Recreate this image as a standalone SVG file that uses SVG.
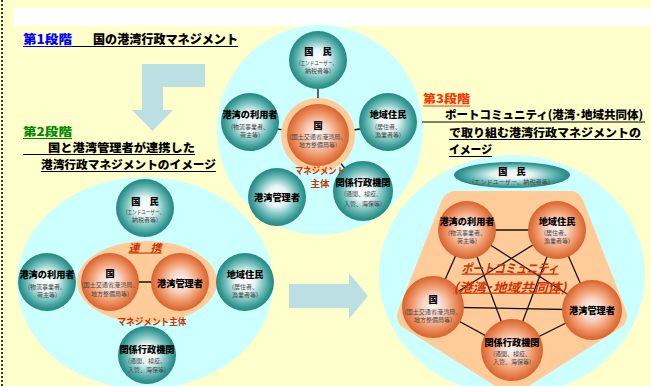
<svg xmlns="http://www.w3.org/2000/svg" width="651" height="386" viewBox="0 0 651 386">
<defs>
<radialGradient id="teal" cx="50%" cy="50%" r="50%" fx="50%" fy="48%">
<stop offset="0" stop-color="#FFFFFF"/>
<stop offset="0.35" stop-color="#E6F5F4"/>
<stop offset="0.65" stop-color="#7AC2BE"/>
<stop offset="0.88" stop-color="#369A94"/>
<stop offset="1" stop-color="#2A8480"/>
</radialGradient>
<radialGradient id="orange" cx="50%" cy="50%" r="50%" fx="50%" fy="48%">
<stop offset="0" stop-color="#FFF6F2"/>
<stop offset="0.35" stop-color="#F9D4C4"/>
<stop offset="0.7" stop-color="#EE9465"/>
<stop offset="1" stop-color="#D8622C"/>
</radialGradient>
<style>
text{font-family:"Noto Sans CJK JP","Noto Sans CJK SC",sans-serif}
.h{font-size:12.5px;font-weight:900}
.h2{font-size:11.5px;font-weight:900}
.t{font-size:9.2px;font-weight:900;fill:#000;text-anchor:middle}
.s{font-size:6px;fill:#444;text-anchor:middle}
.r{font-weight:bold;fill:#CC3300;text-anchor:middle}
.ts{fill:url(#teal)}
.os{fill:url(#orange)}
.cn{stroke:#111;stroke-width:1.3;fill:none}
</style>
</defs>
<rect width="651" height="386" fill="#FFFFCC"/>
<line x1="2" y1="0" x2="2" y2="386" stroke="#333" stroke-width="2" stroke-dasharray="2 2"/>
<rect x="14" y="8" width="637" height="18" fill="#FFFFFF"/>

<!-- background regions -->
<ellipse cx="512" cy="275" rx="133" ry="120" fill="#CCFFFF"/>
<ellipse cx="145" cy="283" rx="128" ry="106" fill="#CCFFFF"/>
<ellipse cx="320" cy="130" rx="103" ry="105" fill="#CCFFFF"/>
<polygon points="455,205 570,205 613,316 512,380 411,316" fill="#FFCC99" stroke="#FFCC99" stroke-width="28" stroke-linejoin="round"/>
<ellipse cx="147" cy="282" rx="70" ry="41" fill="#FFCC99"/>

<!-- arrows -->
<path d="M205,64 L142,64 L142,110 L132,110 L152.5,131 L173,110 L163,110 L163,87 L205,87 Z" fill="#BBDFE3"/>
<path d="M289,284 L349,284 L349,273 L368,296 L349,319 L349,308 L289,308 Z" fill="#BBDFE3"/>

<!-- headings -->
<g id="stage1">
<text class="h" x="23" y="44" fill="#0000FF" textLength="49" lengthAdjust="spacingAndGlyphs">第1段階</text>
<text class="h" x="93" y="44" fill="#000" textLength="145" lengthAdjust="spacingAndGlyphs">国の港湾行政マネジメント</text>
<line x1="23" y1="46.5" x2="72" y2="46.5" stroke="#0000FF" stroke-width="1"/>
<line x1="72" y1="46.5" x2="238" y2="46.5" stroke="#000" stroke-width="1"/>
</g>
<g id="stage2">
<text class="h2" x="23" y="135.5" fill="#008800" textLength="49" lengthAdjust="spacingAndGlyphs">第2段階</text>
<line x1="23" y1="138.5" x2="72" y2="138.5" stroke="#008800" stroke-width="1"/>
<text class="h2" x="48" y="152" fill="#000" textLength="147" lengthAdjust="spacingAndGlyphs">国と港湾管理者が連携した</text>
<line x1="23" y1="154.5" x2="195" y2="154.5" stroke="#000" stroke-width="1"/>
<text class="h2" x="41" y="168.5" fill="#000" textLength="175" lengthAdjust="spacingAndGlyphs">港湾行政マネジメントのイメージ</text>
<line x1="41" y1="171.5" x2="216" y2="171.5" stroke="#000" stroke-width="1"/>
</g>
<g id="stage3">
<text class="h2" x="423" y="103" fill="#FF3300" textLength="47" lengthAdjust="spacingAndGlyphs">第3段階</text>
<line x1="423" y1="106" x2="470" y2="106" stroke="#FF3300" stroke-width="1"/>
<text class="h2" x="445" y="119" fill="#000" textLength="198" lengthAdjust="spacingAndGlyphs">ポートコミュニティ(港湾･地域共同体)</text>
<line x1="422" y1="122" x2="645" y2="122" stroke="#000" stroke-width="1"/>
<text class="h2" x="449" y="137" fill="#000" textLength="192" lengthAdjust="spacingAndGlyphs">で取り組む港湾行政マネジメントの</text>
<line x1="449" y1="139.5" x2="641" y2="139.5" stroke="#000" stroke-width="1"/>
<text class="h2" x="449" y="154" fill="#000" textLength="43" lengthAdjust="spacingAndGlyphs">イメージ</text>
<line x1="449" y1="156.5" x2="492" y2="156.5" stroke="#000" stroke-width="1"/>
</g>

<!-- connectors -->
<g id="connectors">
<line class="cn" x1="318" y1="135" x2="318" y2="60"/>
<line class="cn" x1="318" y1="135" x2="250" y2="125"/>
<line class="cn" x1="318" y1="135" x2="388" y2="125"/>
<line class="cn" x1="318" y1="135" x2="363" y2="191"/>
<line class="cn" x1="110" y1="282" x2="180" y2="282"/>
<line class="cn" x1="467" y1="230" x2="557" y2="230"/>
<line class="cn" x1="467" y1="230" x2="433" y2="307"/>
<line class="cn" x1="467" y1="230" x2="592" y2="310"/>
<line class="cn" x1="467" y1="230" x2="512" y2="350"/>
<line class="cn" x1="557" y1="230" x2="433" y2="307"/>
<line class="cn" x1="557" y1="230" x2="592" y2="310"/>
<line class="cn" x1="557" y1="230" x2="512" y2="350"/>
<line class="cn" x1="433" y1="307" x2="592" y2="310"/>
<line class="cn" x1="433" y1="307" x2="512" y2="350"/>
<line class="cn" x1="592" y1="310" x2="512" y2="350"/>
</g>

<!-- stage 1 nodes -->
<g id="s1-kokumin">
<circle class="ts" cx="318" cy="60" r="29"/>
<text class="t" x="318" y="55">国　民</text>
<text class="s" x="318" y="64.5" textLength="38" lengthAdjust="spacingAndGlyphs">(エンドユーザー、</text>
<text class="s" x="318" y="72.5">納税者等)</text>
</g>
<g id="s1-riyousha">
<circle class="ts" cx="250" cy="122" r="29"/>
<text class="t" x="250" y="117.5">港湾の利用者</text>
<text class="s" x="250" y="128.5">(物流事業者、</text>
<text class="s" x="250" y="136.5">荷主等)</text>
</g>
<g id="s1-juumin">
<circle class="ts" cx="388" cy="122" r="29"/>
<text class="t" x="388" y="117.5">地域住民</text>
<text class="s" x="388" y="128.5">(居住者、</text>
<text class="s" x="388" y="136.5">漁業者等)</text>
</g>
<g id="s1-kuni">
<circle cx="318" cy="135" r="37" fill="#FFCC99"/>
<circle class="os" cx="318" cy="135" r="31"/>
<text class="t" x="318" y="129">国</text>
<text class="s" x="318" y="139" textLength="57" lengthAdjust="spacingAndGlyphs">(国土交通省港湾局、</text>
<text class="s" x="318" y="147">地方整備局等)</text>
</g>
<g id="s1-kanrisha">
<circle class="ts" cx="277" cy="197" r="29"/>
<text class="t" x="277" y="200.5">港湾管理者</text>
</g>
<g id="s1-gyousei">
<circle class="ts" cx="363" cy="191" r="30"/>
<text class="t" x="363" y="186">関係行政機関</text>
<text class="s" x="363" y="196">(通関、検疫、</text>
<text class="s" x="363" y="205.5">入管、海保等)</text>
</g>
<g id="s1-label">
<text class="r" x="320" y="173.5" font-size="9.5" textLength="50" lengthAdjust="spacingAndGlyphs">マネジメント</text>
<text class="r" x="320" y="186.5" font-size="9.5">主体</text>
</g>

<!-- stage 2 nodes -->
<g id="s2-kokumin">
<circle class="ts" cx="145" cy="208" r="29"/>
<text class="t" x="145" y="204.5">国　民</text>
<text class="s" x="145" y="214" textLength="38" lengthAdjust="spacingAndGlyphs">(エンドユーザー、</text>
<text class="s" x="145" y="222">納税者等)</text>
</g>
<g id="s2-riyousha">
<circle class="ts" cx="47" cy="282" r="29"/>
<text class="t" x="47" y="278">港湾の利用者</text>
<text class="s" x="47" y="288.5">(物流事業者、</text>
<text class="s" x="47" y="297">荷主等)</text>
</g>
<g id="s2-kuni">
<circle class="os" cx="110" cy="282" r="29"/>
<text class="t" x="110" y="277">国</text>
<text class="s" x="110" y="287" textLength="57" lengthAdjust="spacingAndGlyphs">(国土交通省港湾局、</text>
<text class="s" x="110" y="295.5">地方整備局等)</text>
</g>
<g id="s2-kanrisha">
<circle class="os" cx="180" cy="282" r="29"/>
<text class="t" x="180" y="286.5">港湾管理者</text>
</g>
<g id="s2-juumin">
<circle class="ts" cx="245" cy="282" r="29"/>
<text class="t" x="245" y="278">地域住民</text>
<text class="s" x="245" y="288.5">(居住者、</text>
<text class="s" x="245" y="297">漁業者等)</text>
</g>
<g id="s2-gyousei">
<circle class="ts" cx="147" cy="355" r="29"/>
<text class="t" x="147" y="353">関係行政機関</text>
<text class="s" x="147" y="363">(通関、検疫、</text>
<text class="s" x="147" y="371.5">入管、海保等)</text>
</g>
<g id="s2-labels">
<text class="r" x="145" y="251.5" font-size="11" font-style="italic" text-decoration="underline">連　携</text>
<text class="r" x="152" y="324.5" font-size="9.5" textLength="69" lengthAdjust="spacingAndGlyphs">マネジメント主体</text>
</g>

<!-- stage 3 nodes -->
<g id="s3-kokumin">
<ellipse cx="512" cy="175" rx="58" ry="13" fill="url(#teal)"/>
<text class="t" x="512" y="175">国　民</text>
<text class="s" x="511" y="184" textLength="78" lengthAdjust="spacingAndGlyphs">(エンドユーザー、納税者等)</text>
</g>
<g id="s3-riyousha">
<circle class="os" cx="467" cy="230" r="29"/>
<text class="t" x="467" y="224.5">港湾の利用者</text>
<text class="s" x="467" y="234.5">(物流事業者、</text>
<text class="s" x="467" y="243">荷主等)</text>
</g>
<g id="s3-juumin">
<circle class="os" cx="557" cy="230" r="29"/>
<text class="t" x="557" y="224.5">地域住民</text>
<text class="s" x="557" y="234.5">(居住者、</text>
<text class="s" x="557" y="243">漁業者等)</text>
</g>
<g id="s3-kuni">
<circle class="os" cx="433" cy="307" r="31"/>
<text class="t" x="433" y="302.5">国</text>
<text class="s" x="433" y="313.5" textLength="57" lengthAdjust="spacingAndGlyphs">(国土交通省港湾局、</text>
<text class="s" x="433" y="321.5">地方整備局等)</text>
</g>
<g id="s3-kanrisha">
<circle class="os" cx="592" cy="310" r="30"/>
<text class="t" x="592" y="313.5">港湾管理者</text>
</g>
<g id="s3-gyousei">
<circle class="os" cx="512" cy="350" r="31"/>
<text class="t" x="512" y="346">関係行政機関</text>
<text class="s" x="512" y="356">(通関、検疫、</text>
<text class="s" x="512" y="364">入管、海保等)</text>
</g>
<g id="s3-label">
<text class="r" x="510" y="272.5" font-size="12.5" font-style="italic" text-decoration="underline" textLength="97" lengthAdjust="spacingAndGlyphs">ポートコミュニティ</text>
<text class="r" x="510" y="291.5" font-size="12.5" font-style="italic" text-decoration="underline" textLength="113" lengthAdjust="spacingAndGlyphs">(港湾･地域共同体)</text>
</g>
</svg>
